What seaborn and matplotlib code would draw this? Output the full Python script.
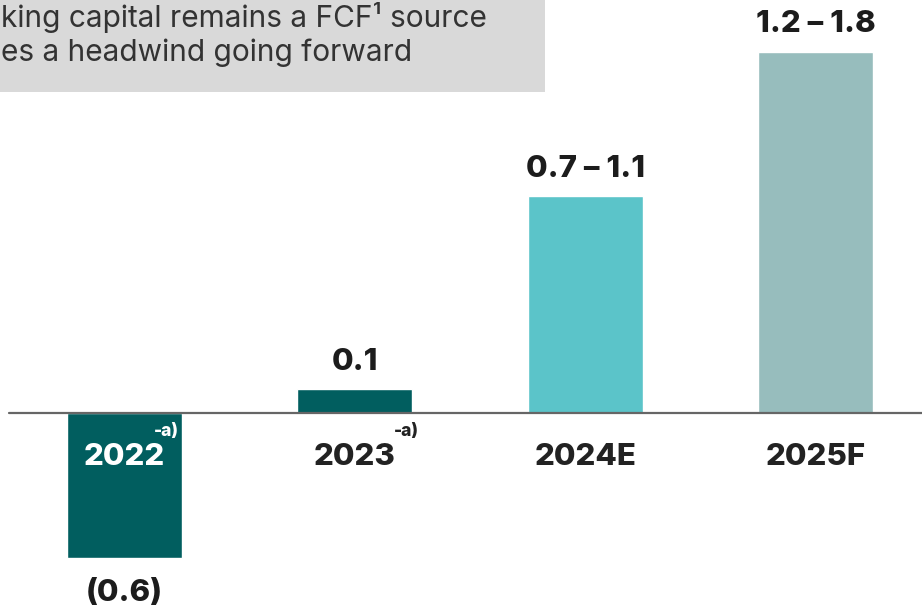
import matplotlib
matplotlib.use("Agg")
import matplotlib.pyplot as plt
from matplotlib.patches import Rectangle
import seaborn as sns
import pandas as pd

# Working-capital contribution to FCF (EUR bn)
categories = ["2022", "2023", "2024E", "2025F"]
values = [-0.6, 0.1, 0.9, 1.5]          # bar heights (range midpoints for outlooks)
value_labels = ["(0.6)", "0.1", "0.7 – 1.1", "1.2 – 1.8"]
footnotes = ["-a)", "-a)", "", ""]
bar_colors = ["#015e5f", "#015e5f", "#5bc4c9", "#97bdbd"]
headline = ["king capital remains a FCF¹ source",
            "es a headwind going forward"]

W, H = 922, 607
sns.set_theme(style="white")
plt.rcParams["font.family"] = ["Inter", "DejaVu Sans"]

fig = plt.figure(figsize=(W / 100, H / 100), dpi=100)
ax = fig.add_axes([0, 0, 1, 1])

df = pd.DataFrame({"category": categories, "value": values})
sns.barplot(data=df, x="category", y="value", hue="category",
            palette=bar_colors, width=0.5, legend=False,
            saturation=1, ax=ax)

# axis scale: category spacing and units per pixel
x0_px, dx_px = 124.5, 230.3
base_px, unit_px = 413, 241
ax.set_xlim(-x0_px / dx_px, (W - x0_px) / dx_px)
ax.set_ylim(-(H - base_px) / unit_px, base_px / unit_px)
ax.axis("off")

# zero line
ax.axhline(0, xmin=9 / W, xmax=1, color="#666666", lw=1.6, zorder=3)

LABEL_SIZE = 22.5
LABEL_WEIGHT = 800

# value labels
for i, (v, lab) in enumerate(zip(values, value_labels)):
    if v >= 0:
        y = v + 19 / unit_px
    else:
        y = v - 43 / unit_px
    ax.text(i, y, lab, ha="center", va="baseline", fontsize=LABEL_SIZE,
            fontweight=LABEL_WEIGHT, color="#1c1c1c")

# category labels under the zero line
for i, (cat, v) in enumerate(zip(categories, values)):
    col = "white" if v < 0 else "#222222"
    ax.text(i, -52 / unit_px, cat, ha="center", va="baseline",
            fontsize=LABEL_SIZE, fontweight=LABEL_WEIGHT, color=col)

# footnote markers
fn_offsets = [29.5, 39.5, 0, 0]
for i, (fn, off) in enumerate(zip(footnotes, fn_offsets)):
    if fn:
        col = "white" if values[i] < 0 else "#222222"
        ax.text(i + off / dx_px, -10 / unit_px, fn, ha="left", va="top",
                fontsize=12.5, fontweight=LABEL_WEIGHT, color=col)

# headline box
fig.patches.append(Rectangle((0, 1 - 92 / H), 545 / W, 92 / H,
                             transform=fig.transFigure, facecolor="#d9d9d9",
                             edgecolor="none", zorder=0))
fig.text(1 / W, 1 - 2 / H, headline[0], ha="left", va="top",
         fontsize=21.5, color="#333333")
fig.text(1 / W, 1 - 61 / H, headline[1], ha="left", va="baseline",
         fontsize=21.5, color="#333333")

fig.savefig("out.png", dpi=100)
